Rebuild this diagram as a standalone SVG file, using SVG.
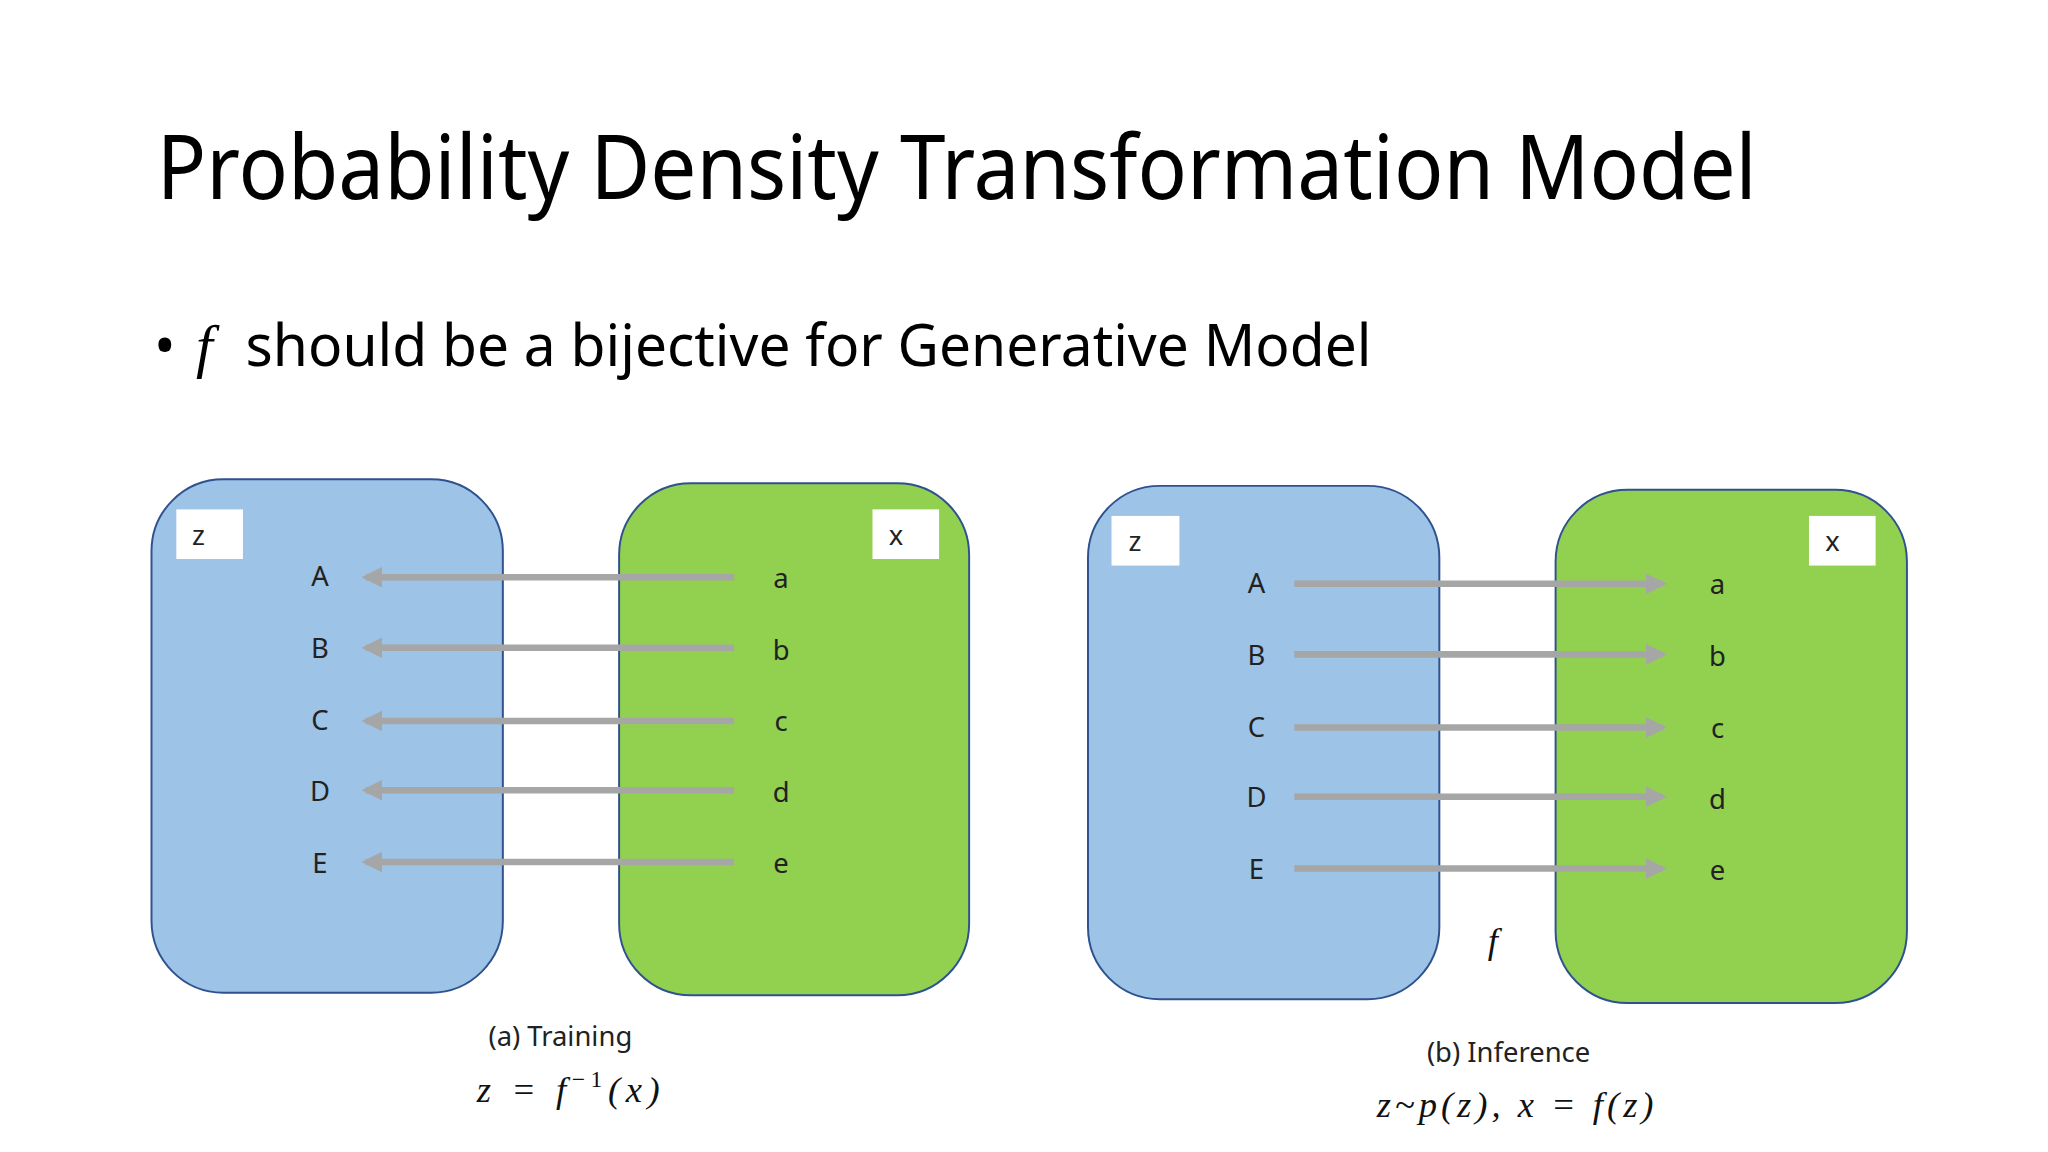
<svg xmlns="http://www.w3.org/2000/svg" width="2048" height="1152" viewBox="0 0 2048 1152">
<style>
.t{font-family:"Noto Sans","DejaVu Sans",sans-serif;fill:#000}
.l{font-family:"Noto Sans",sans-serif;font-size:21px;fill:#222;text-anchor:middle;dominant-baseline:central}
.m{font-family:"Liberation Serif",serif;font-style:italic;font-size:28px;fill:#111;text-anchor:middle}
.blue{fill:#9DC3E6;stroke:#2F528F;stroke-width:1.5}
.green{fill:#92D050;stroke:#2F528F;stroke-width:1.5}
.lab{fill:#fff}
.ar{stroke:#A6A6A6;stroke-width:5;fill:none;marker-end:url(#ah)}
</style>
<defs><marker id="ah" viewBox="0 0 10 10" refX="8" refY="5" markerWidth="3.2" markerHeight="3.2" orient="auto"><path d="M0,0L10,5L0,10z" fill="#A6A6A6"/></marker></defs>
<rect width="2048" height="1152" fill="#fff"/>
<g transform="scale(1.30612)">
<text class="t" x="120" y="152" font-size="68" textLength="1225" lengthAdjust="spacingAndGlyphs">Probability Density Transformation Model</text>
<text class="t" x="118" y="280" font-size="44">•</text>
<text x="150" y="280" font-size="46" font-family="Liberation Serif,serif" font-style="italic">f</text>
<text class="t" x="188" y="280" font-size="44" textLength="862" lengthAdjust="spacingAndGlyphs">should be a bijective for Generative Model</text>
<g id="za"><rect class="blue" x="116" y="367" width="269" height="393" rx="55"/><rect class="lab" x="135" y="390" width="51" height="38"/><text class="l" x="152" y="409">z</text></g>
<g id="xa"><rect class="green" x="474" y="370" width="268" height="392" rx="55"/><rect class="lab" x="668" y="390" width="51" height="38"/><text class="l" x="686" y="409">x</text></g>
<g id="zb"><rect class="blue" x="833" y="372" width="269" height="393" rx="55"/><rect class="lab" x="851" y="395" width="52" height="38"/><text class="l" x="869" y="414">z</text></g>
<g id="xb"><rect class="green" x="1191" y="375" width="269" height="393" rx="55"/><rect class="lab" x="1385" y="395" width="51" height="38"/><text class="l" x="1403" y="414">x</text></g>
<g id="connectors">
<path class="ar" d="M562 442H280"/><path class="ar" d="M562 496H280"/><path class="ar" d="M562 552H280"/><path class="ar" d="M562 605H280"/><path class="ar" d="M562 660H280"/>
<path class="ar" d="M991 447H1273"/><path class="ar" d="M991 501H1273"/><path class="ar" d="M991 557H1273"/><path class="ar" d="M991 610H1273"/><path class="ar" d="M991 665H1273"/>
</g>
<g id="letters">
<text class="l" x="245" y="441">A</text><text class="l" x="245" y="496">B</text><text class="l" x="245" y="551">C</text><text class="l" x="245" y="605">D</text><text class="l" x="245" y="660">E</text>
<text class="l" x="598" y="442">a</text><text class="l" x="598" y="497">b</text><text class="l" x="598" y="552">c</text><text class="l" x="598" y="606">d</text><text class="l" x="598" y="660">e</text>
<text class="l" x="962" y="446">A</text><text class="l" x="962" y="501">B</text><text class="l" x="962" y="556">C</text><text class="l" x="962" y="610">D</text><text class="l" x="962" y="665">E</text>
<text class="l" x="1315" y="447">a</text><text class="l" x="1315" y="502">b</text><text class="l" x="1315" y="557">c</text><text class="l" x="1315" y="611">d</text><text class="l" x="1315" y="666">e</text>
</g>
<text class="m" x="1143" y="730" font-size="32">f</text>
<text class="l" x="429" y="793">(a) Training</text>
<text class="m" x="435" y="844" textLength="140">z = f<tspan font-style="normal" font-size="18" dy="-12">−1</tspan><tspan dy="12">(x)</tspan></text>
<text class="l" x="1155" y="805">(b) Inference</text>
<text class="m" x="1160" y="855" textLength="212">z~p(z), x = f(z)</text>
</g>
</svg>
